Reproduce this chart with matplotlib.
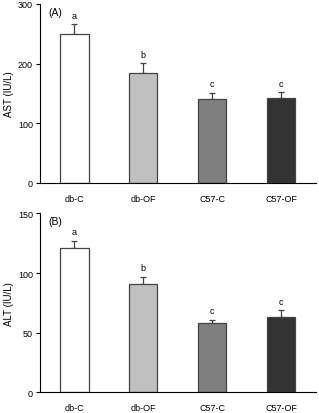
import matplotlib
matplotlib.use('Agg')
import matplotlib.pyplot as plt
import numpy as np

groups = ['db-C', 'db-OF', 'C57-C', 'C57-OF']
colors = ['#ffffff', '#c0c0c0', '#7f7f7f', '#333333']

ast_mean = [249, 184, 141, 143]
ast_err = [17, 17, 10, 9]
alt_mean = [121, 91, 58, 63]
alt_err = [6, 6, 3, 6]
letters_ast = ['a', 'b', 'c', 'c']
letters_alt = ['a', 'b', 'c', 'c']

plt.rcParams['font.family'] = ['Liberation Sans', 'DejaVu Sans']

fig = plt.figure(figsize=(3.19, 4.14), dpi=100)
ax1 = fig.add_axes([0.125, 0.556, 0.865, 0.432])
ax2 = fig.add_axes([0.125, 0.05, 0.865, 0.432])


def draw(ax, means, errs, letters, ymax, ystep, ylabel, tag):
    x = np.arange(len(groups))
    ax.bar(x, means, width=0.41, color=colors, edgecolor='#444444', linewidth=0.9, zorder=2)
    ax.errorbar(x, means, yerr=[np.zeros(len(errs)), errs], fmt='none', ecolor='#444444',
                elinewidth=0.9, capsize=2, capthick=0.9, zorder=1)
    off = ymax * 0.025
    for xi, m, e, l in zip(x, means, errs, letters):
        ax.text(xi, m + e + off, l, ha='center', va='bottom', fontsize=6.5)
    ax.set_xlim(-0.5, 3.5)
    ax.set_ylim(0, ymax)
    ax.set_yticks(np.arange(0, ymax + 1, ystep))
    ax.set_xticks(x)
    ax.set_xticklabels(groups)
    ax.tick_params(axis='x', length=0, labelsize=6.5, pad=8)
    ax.tick_params(axis='y', length=3, width=0.8, labelsize=6.5, direction='out', pad=2)
    ax.spines['top'].set_visible(False)
    ax.spines['right'].set_visible(False)
    ax.spines['left'].set_linewidth(0.8)
    ax.spines['bottom'].set_linewidth(0.8)
    ax.set_ylabel(ylabel, fontsize=7)
    ax.yaxis.set_label_coords(-0.095, 0.5)
    ax.text(0.03, 0.985, tag, transform=ax.transAxes, ha='left', va='top', fontsize=7.5)


draw(ax1, ast_mean, ast_err, letters_ast, 300, 100, 'AST (IU/L)', '(A)')
draw(ax2, alt_mean, alt_err, letters_alt, 150, 50, 'ALT (IU/L)', '(B)')

fig.savefig('out.png', dpi=100)
